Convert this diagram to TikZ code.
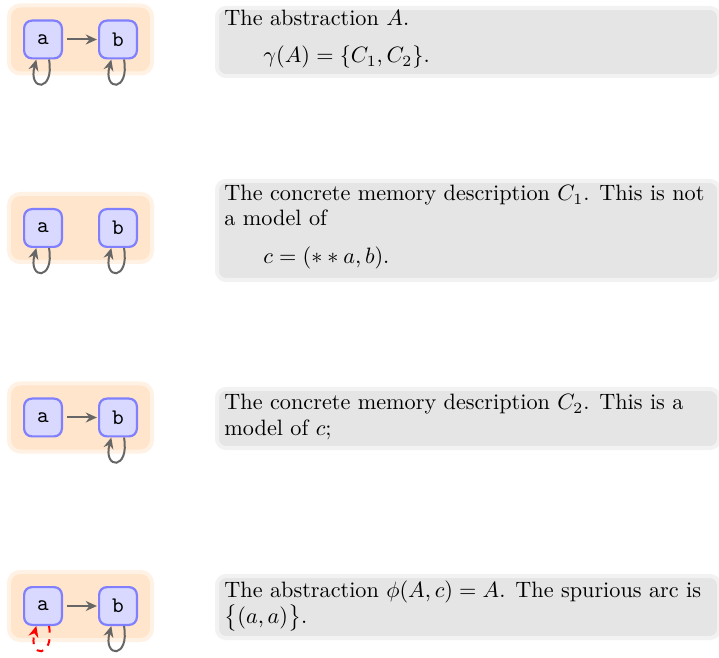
\documentclass[tikz,border=0pt]{standalone}
\usepackage{fontspec}
\usetikzlibrary{arrows.meta,fit,backgrounds}
\begin{document}
\begin{tikzpicture}[x=0.45pt,y=0.45pt,
  vert/.style={draw=blue!50, fill=blue!15, line width=1pt, rounded corners=3.5pt, minimum size=17pt, inner sep=0pt, font=\ttfamily},
  edge/.style={draw=black!60, line width=0.9pt, -{Stealth[length=5pt,width=4.5pt]}, shorten <=1.8pt, shorten >=0.5pt},
  loopedge/.style={draw=black!60, line width=0.9pt, -{Stealth[length=5pt,width=4.5pt]}},
  spur/.style={draw=red, line width=0.9pt, dashed, -{Stealth[length=5pt,width=4.5pt]}},
  group/.style={fill=orange!20, draw=orange!10, line width=1.8pt, rounded corners=5pt, inner sep=6.3pt},
  descr/.style={fill=black!10, draw=black!5, line width=1.8pt, rounded corners=4pt, anchor=north west, inner sep=0pt},
  txt/.style={anchor=base west, inner sep=0pt, font=\addfontfeatures{LetterSpace=0.7}}]
\useasboundingbox (0,0) rectangle (719,-658);

% ---------- row 1 ----------
\node[vert] (a1) at (43,-39.5) {a};
\node[vert] (b1) at (118,-39.5) {b};
\begin{scope}[on background layer]
  \node[group, fit=(a1)(b1)] (g1) {};
\end{scope}
\draw[edge] (a1) -- (b1);
\draw[loopedge] ([xshift=2.7pt]a1.south) to[out=-80,in=-105,distance=15pt] ([xshift=-3pt]a1.south);
\draw[loopedge] ([xshift=2.7pt]b1.south) to[out=-80,in=-105,distance=15pt] ([xshift=-3pt]b1.south);

\node[descr, minimum width=225.9pt, minimum height=30.6pt] (d1) at (215,-6) {};
\node[txt] (l11) at (224,-26) {The abstraction $A$.};
\node[txt] (l12) at (263,-63) {$\gamma(A)=\{C_1,C_2\}$.};

% ---------- row 2 ----------
\node[vert] (a2) at (43,-228) {a};
\node[vert] (b2) at (118,-228) {b};
\begin{scope}[on background layer]
  \node[group, fit=(a2)(b2)] (g2) {};
\end{scope}
\draw[loopedge] ([xshift=2.7pt]a2.south) to[out=-80,in=-105,distance=15pt] ([xshift=-3pt]a2.south);
\draw[loopedge] ([xshift=2.7pt]b2.south) to[out=-80,in=-105,distance=15pt] ([xshift=-3pt]b2.south);

\node[descr, minimum width=225.9pt, minimum height=44.55pt] (d2) at (215,-179) {};
\node[txt] (l21) at (224,-201) {The concrete memory description $C_1$. This is not};
\node[txt] (l22) at (224,-226) {a model of};
\node[txt] (l23) at (263,-264) {$c=(**a,b)$.};

% ---------- row 3 ----------
\node[vert] (a3) at (43,-417.5) {a};
\node[vert] (b3) at (118,-417.5) {b};
\begin{scope}[on background layer]
  \node[group, fit=(a3)(b3)] (g3) {};
\end{scope}
\draw[edge] (a3) -- (b3);
\draw[loopedge] ([xshift=2.7pt]b3.south) to[out=-80,in=-105,distance=15pt] ([xshift=-3pt]b3.south);

\node[descr, minimum width=225.9pt, minimum height=26.55pt] (d3) at (215,-387) {};
\node[txt] (l31) at (224,-410) {The concrete memory description $C_2$. This is a};
\node[txt] (l32) at (224,-436) {model of $c$;};

% ---------- row 4 ----------
\node[vert] (a4) at (43,-606) {a};
\node[vert] (b4) at (118,-606) {b};
\begin{scope}[on background layer]
  \node[group, fit=(a4)(b4)] (g4) {};
\end{scope}
\draw[edge] (a4) -- (b4);
\draw[spur] ([xshift=2.7pt]a4.south) to[out=-80,in=-105,distance=15pt] ([xshift=-3pt]a4.south);
\draw[loopedge] ([xshift=2.7pt]b4.south) to[out=-80,in=-105,distance=15pt] ([xshift=-3pt]b4.south);

\node[descr, minimum width=225.9pt, minimum height=27.9pt] (d4) at (215,-574) {};
\node[txt] (l41) at (224,-597) {The abstraction $\phi(A,c)=A$. The spurious arc is};
\node[txt] (l42) at (224,-623) {$\bigl\{(a,a)\bigr\}$.};
\end{tikzpicture}
\end{document}
